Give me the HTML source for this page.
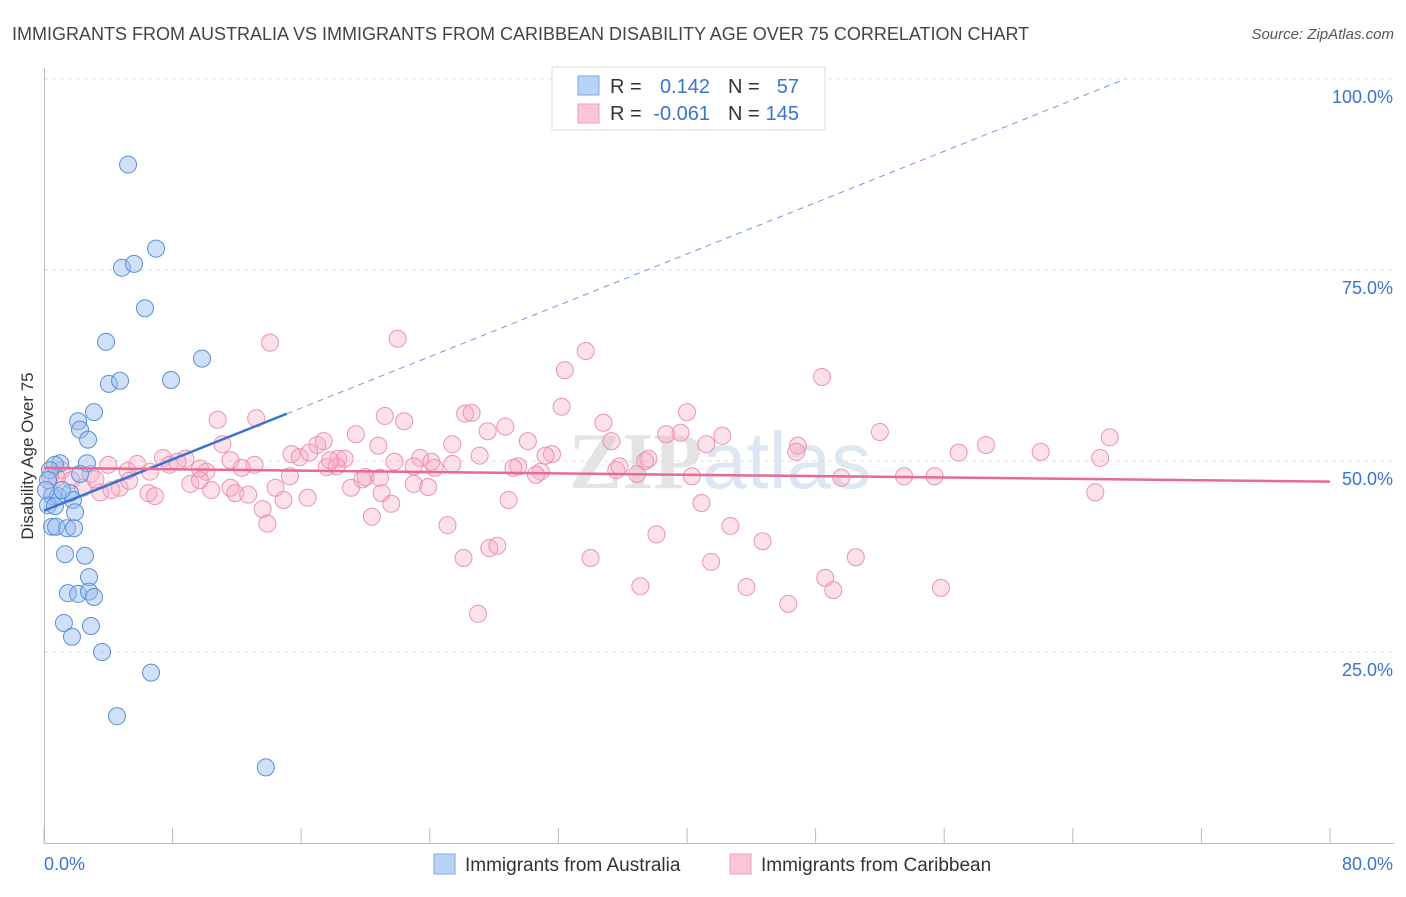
<!DOCTYPE html>
<html><head><meta charset="utf-8"><style>
body{margin:0;background:#fff;font-family:"Liberation Sans",sans-serif;}
</style></head><body>
<svg id="chart" width="1406" height="892" xmlns="http://www.w3.org/2000/svg" font-family="Liberation Sans, sans-serif">
<text x="12" y="40" font-size="18" fill="#444">IMMIGRANTS FROM AUSTRALIA VS IMMIGRANTS FROM CARIBBEAN DISABILITY AGE OVER 75 CORRELATION CHART</text>
<text x="1394" y="39" font-size="15" fill="#555" font-style="italic" text-anchor="end">Source: ZipAtlas.com</text>
<text transform="translate(33,456) rotate(-90)" font-size="17" fill="#333" text-anchor="middle">Disability Age Over 75</text>
<text x="720" y="488" font-size="80" fill="#e4e4e4" text-anchor="middle" font-family="Liberation Serif, serif" font-weight="bold">ZIP<tspan fill="#dde6f3" font-family="Liberation Sans, sans-serif" font-weight="normal">atlas</tspan></text>
<g id="grid"></g><g id="axes"></g><g id="pink"></g><g id="blue"></g><g id="lines"></g>
<g>
<rect x="552" y="67" width="273" height="63" fill="#fff" stroke="#ddd"/>
<rect x="578" y="76" width="21" height="19" fill="#b8d3f6" stroke="#7ea8e0"/>
<rect x="578" y="104" width="21" height="19" fill="#fbc6d6" stroke="#ec9fb8"/>
<text x="610" y="93" font-size="20" fill="#333">R =</text><text x="710" y="93" font-size="20" fill="#3a73d0" text-anchor="end">0.142</text>
<text x="728" y="93" font-size="20" fill="#333">N =</text><text x="799" y="93" font-size="20" fill="#3a73d0" text-anchor="end">57</text>
<text x="610" y="120" font-size="20" fill="#333">R =</text><text x="710" y="120" font-size="20" fill="#3a73d0" text-anchor="end">-0.061</text>
<text x="728" y="120" font-size="20" fill="#333">N =</text><text x="799" y="120" font-size="20" fill="#3a73d0" text-anchor="end">145</text>
</g>
<g>
<rect x="434" y="854" width="21" height="20" fill="#b8d3f6" stroke="#7ea8e0"/>
<text x="465" y="871" font-size="19" fill="#333">Immigrants from Australia</text>
<rect x="730" y="854" width="21" height="20" fill="#fbc6d6" stroke="#ec9fb8"/>
<text x="761" y="871" font-size="19" fill="#333">Immigrants from Caribbean</text>
</g>
</svg>
<script>
const blueX=[5.23,6.97,4.85,5.6,6.28,3.86,9.83,4.04,4.73,7.9,3.11,2.12,2.24,2.74,1.0,0.68,2.67,2.24,0.37,0.5,0.87,1.62,1.8,1.12,0.25,0.68,1.93,0.5,0.75,1.43,1.87,1.31,2.55,2.8,1.49,2.12,2.8,3.11,1.24,2.92,1.74,3.61,6.66,4.54,13.8,0.25,0.12];
const blueY=[88.8,77.8,75.3,75.8,70.0,65.6,63.4,60.1,60.5,60.6,56.4,55.2,54.1,52.8,49.7,49.5,49.7,48.3,48.8,45.4,45.4,45.8,44.9,46.2,44.2,44.1,43.3,41.4,41.4,41.2,41.2,37.8,37.6,34.8,32.7,32.6,32.9,32.2,28.8,28.4,27.0,25.0,22.3,16.6,9.9,47.5,46.2];
const pinkX=[14.06,22.0,33.7,32.4,48.4,10.8,13.2,21.2,22.4,32.2,26.2,26.6,34.8,40.0,19.4,11.1,15.4,17.0,17.4,28.7,27.6,30.1,35.3,38.7,39.6,42.2,46.9,52.0,58.6,62.0,56.9,66.3,65.7,65.4,20.8,25.4,27.1,31.6,31.2,37.4,37.6,41.2,46.8,7.4,8.8,11.6,13.1,5.8,4.0,5.2,6.6,7.8,8.3,9.7,10.1,12.3,15.9,16.5,17.6,18.3,18.7,18.2,20.0,23.4,23.0,24.1,24.3,21.8,25.4,29.5,29.2,30.9,30.6,35.6,35.8,36.9,40.3,49.6,53.5,55.4,1.1,1.7,2.4,2.9,3.5,4.7,6.5,6.9,9.1,10.4,11.6,11.9,12.7,14.4,15.3,16.4,19.1,19.8,21.0,21.6,23.0,23.9,20.4,13.6,13.9,14.9,28.9,40.9,25.1,26.1,27.7,28.2,34.0,38.1,42.7,44.7,41.5,43.7,37.1,46.3,48.6,49.1,50.5,55.8,27.0,0.8,0.4,3.2,5.3,4.2,9.7,17.8,20.9];
const pinkY=[65.5,66.0,64.4,61.9,61.0,55.4,55.6,55.9,55.2,57.1,56.2,56.3,55.0,56.4,53.5,52.2,50.9,52.1,52.6,54.5,53.9,52.6,52.6,53.5,53.7,53.3,52.0,53.8,52.1,51.2,51.1,53.1,50.4,45.9,52.0,52.2,50.7,50.9,50.7,50.0,50.3,52.2,51.2,50.4,50.3,50.1,49.5,49.6,49.5,48.7,48.6,49.5,49.9,49.0,48.6,49.1,50.5,51.1,49.2,50.3,50.3,49.3,47.9,50.4,49.3,49.9,49.1,49.9,49.6,49.3,49.1,48.6,48.2,48.8,49.3,48.3,48.0,47.8,48.0,48.0,48.8,47.5,46.5,48.3,45.9,46.5,45.8,45.4,47.0,46.2,46.5,45.8,45.6,46.5,48.0,45.2,46.5,47.6,45.8,44.4,47.0,46.6,42.7,43.7,41.8,44.9,44.9,44.5,41.6,37.3,38.6,38.9,37.3,40.4,41.5,39.5,36.8,33.5,33.6,31.3,34.7,33.1,37.4,33.4,30.0,47.8,48.0,47.6,47.4,46.2,47.5,50.1,47.8];
const xTicks=[0,8,16,24,32,40,48,56,64,72,80];
const yTicks=[25,50,75,100];
const yTickLabels=["25.0%","50.0%","75.0%","100.0%"];
const blueFit=[43.5,0.84], pinkFit=[49.1,-0.0225];
const X=v=>44+v*1286/80, Y=v=>843-v*7.64;
const NS="http://www.w3.org/2000/svg";
function mk(p,t,a){const e=document.createElementNS(NS,t);for(const k in a)e.setAttribute(k,a[k]);document.getElementById(p).appendChild(e);return e;}
yTicks.forEach((t,i)=>{
 const g=mk('grid','line',{x1:44,x2:1394,y1:Y(t),y2:Y(t),stroke:'#ddd','stroke-dasharray':'4,4'});
 
 
 const l=mk('axes','text',{x:1393,y:Y(t)+24,'font-size':18,fill:'#3a73d0','text-anchor':'end'});l.textContent=yTickLabels[i];
 
 
});
const ax=mk('axes','line',{x1:44,x2:1394,y1:843.5,y2:843.5,stroke:'#bbb'});


const ay=mk('axes','line',{x1:44.5,x2:44.5,y1:68,y2:843,stroke:'#bbb'});


xTicks.forEach(t=>{const k=mk('axes','line',{x1:X(t),x2:X(t),y1:828,y2:843,stroke:'#bbb'});
 
 });
const xl0=mk('axes','text',{x:44,y:870,'font-size':18,fill:'#3a73d0'});xl0.textContent='0.0%';


const xl1=mk('axes','text',{x:1393,y:870,'font-size':18,fill:'#3a73d0','text-anchor':'end'});xl1.textContent='80.0%';


pinkX.forEach((v,i)=>{const c=mk('pink','circle',{cx:X(v),cy:Y(pinkY[i]),r:8.5,fill:'rgba(245,170,195,0.35)',stroke:'#eb93b0','stroke-width':1});
 
 });
blueX.forEach((v,i)=>{const c=mk('blue','circle',{cx:X(v),cy:Y(blueY[i]),r:8.5,fill:'rgba(150,188,238,0.45)',stroke:'#5b8fd8','stroke-width':1});
 
 });
const f=(fit,x)=>fit[0]+fit[1]*x;
const bs=mk('lines','line',{x1:X(0),y1:Y(f(blueFit,0)),x2:X(15.1),y2:Y(f(blueFit,15.1)),stroke:'#3a73d0','stroke-width':2.5});


const xe=(100-blueFit[0])/blueFit[1];
const bd=mk('lines','line',{x1:X(15.1),y1:Y(f(blueFit,15.1)),x2:X(xe),y2:Y(100),stroke:'#6d9ce0','stroke-width':1,'stroke-dasharray':'6,5'});


const pl=mk('lines','line',{x1:X(0),y1:Y(f(pinkFit,0)),x2:X(80),y2:Y(f(pinkFit,80)),stroke:'#e86a94','stroke-width':2.5});


</script>
</body></html>
